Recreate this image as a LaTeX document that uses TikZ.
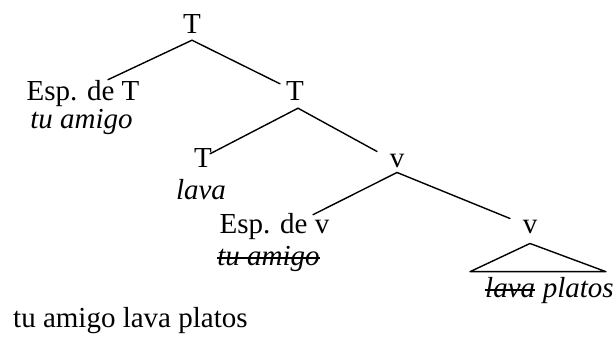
\documentclass[tikz,border=0pt]{standalone}
\usepackage{fontspec}
\setmainfont{Liberation Serif}
\usetikzlibrary{calc}
\newcommand{\treefont}{\fontsize{29}{34}\selectfont}

\begin{document}
\begin{tikzpicture}[x=1pt, y=-1pt,
    cat/.style={inner sep=0pt, anchor=base, font=\treefont},
    wrd/.style={cat, font=\treefont\itshape},
    br/.style={line width=1.4pt, line cap=round},
    strike/.style={line width=1.5pt},
  ]
    \useasboundingbox (0,0) rectangle (613,338);
    \node[cat] (tTop) at (192, 33) {T};
    \node[cat] (espT) at (83, 100) {Esp. de T};
    \node[wrd] (tuT) at (81.5, 128) {tu amigo};
    \node[cat] (tBar) at (295, 100) {T};
    \node[cat] (tHead) at (203, 167) {T};
    \node[wrd] (lavaT) at (201, 199) {lava};
    \node[cat] (vBar) at (397, 167) {v};
    \node[cat] (espV) at (274.5, 233) {Esp. de v};
    \node[wrd] (tuV) at (268.5, 265) {tu amigo};
    \node[cat] (vHead) at (530, 233) {v};
    \node[wrd, anchor=base west] (lavaV) at (485, 297) {lava};
    \node[wrd, anchor=base west] (platos) at ([xshift=7.3pt]lavaV.base east) {platos};
    \node[cat, anchor=base west] (frase) at (13, 327) {tu amigo lava platos};

    \draw[br] ([yshift=-7pt]tTop.south) -- ([xshift=25pt]espT.north);
    \draw[br] ([yshift=-7pt]tTop.south) -- ([shift={(-15pt,-3pt)}]tBar.north);
    \draw[br] ([shift={(3pt,-8pt)}]tBar.south) -- ([shift={(7pt,-6pt)}]tHead.north);
    \draw[br] ([shift={(3pt,-8pt)}]tBar.south) -- ([shift={(-20pt,2pt)}]vBar.north);
    \draw[br] ([yshift=-5pt]vBar.south) -- ([shift={(38.5pt,-2pt)}]espV.north);
    \draw[br] ([yshift=-5pt]vBar.south) -- ([shift={(-20pt,1pt)}]vHead.north);
    \draw[br, line join=round] ([yshift=-10pt]vHead.south)
      -- ([shift={(-15pt,5pt)}]lavaV.north west)
      -- ([shift={(-8pt,5pt)}]platos.north east) -- cycle;

    \draw[strike] ([yshift=7pt]tuV.base west) -- ([yshift=7pt]tuV.base east);
    \draw[strike] ([yshift=7pt]lavaV.base west) -- ([yshift=7pt]lavaV.base east);
  \end{tikzpicture}
\end{document}
